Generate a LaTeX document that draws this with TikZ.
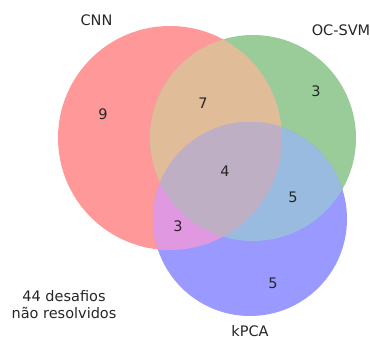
\documentclass[tikz,border=0pt]{standalone}
\usepackage{fontspec}
\setmainfont{DejaVu Sans}
\definecolor{cR}{HTML}{FF9999}
\definecolor{cG}{HTML}{99CC99}
\definecolor{cB}{HTML}{9999FF}
\definecolor{cRG}{HTML}{E0BC99}
\definecolor{cGB}{HTML}{99BBE0}
\definecolor{cRB}{HTML}{E099E0}
\definecolor{cRGB}{HTML}{BFAFC4}
\begin{document}
\begin{tikzpicture}[x=1pt,y=-1pt,
  lbl/.style={font=\fontsize{14.5}{17}\selectfont, inner sep=0pt, text=black!85},
  num/.style={font=\fontsize{14.5}{17}\selectfont, inner sep=0pt, text=black!85}]
\useasboundingbox (0,0) rectangle (370,340);
\def\cR{(170,138) circle[radius=112]}
\def\cG{(253,138) circle[radius=103]}
\def\cB{(250,219) circle[radius=97]}
\fill[cR] \cR;
\fill[cG] \cG;
\fill[cB] \cB;
\begin{scope}\clip \cR; \fill[cRG] \cG; \end{scope}
\begin{scope}\clip \cR; \fill[cRB] \cB; \end{scope}
\begin{scope}\clip \cG; \fill[cGB] \cB; \end{scope}
\begin{scope}\clip \cR; \clip \cG; \fill[cRGB] \cB; \end{scope}
\node[lbl] (lcnn) at (96.5,20) {CNN};
\node[lbl] (lsvm) at (341,30.5) {OC-SVM};
\node[lbl] (lkpca) at (250,331.5) {kPCA};
\node[num] (n9) at (103,114) {9};
\node[num] (n7) at (203,103) {7};
\node[num] (n3g) at (316,91) {3};
\node[num] (n4) at (225,171) {4};
\node[num] (n5gb) at (293,197) {5};
\node[num] (n3rb) at (178,226) {3};
\node[num] (n5b) at (273,283) {5};
\node[lbl, align=center] (rest) at (64,305) {44 desafios\\não resolvidos};
\end{tikzpicture}
\end{document}
